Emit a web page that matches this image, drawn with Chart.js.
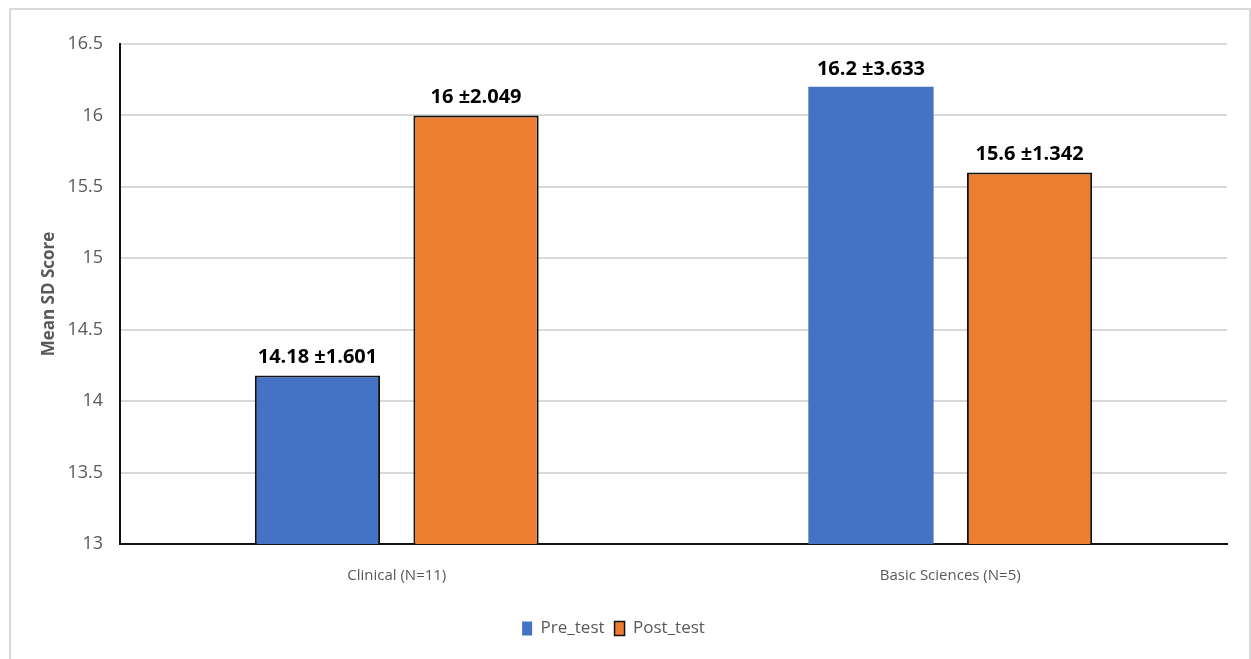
<!DOCTYPE html>
<html>
<head>
<meta charset="utf-8">
<script src="https://cdn.jsdelivr.net/npm/chart.js@4.4.1/dist/chart.umd.min.js"></script>
<style>
  html, body { margin: 0; padding: 0; background: #fff; overflow: hidden; }
  #frame { position: absolute; left: 9px; top: 8px; width: 1238px; height: 700px; border: 2px solid #d9d9d9; }
  #c { position: absolute; left: 0; top: 0; }
</style>
</head>
<body>
<div id="frame"></div>
<canvas id="c" width="1251" height="659"></canvas>
<script>
const categories = ['Clinical (N=11)', 'Basic Sciences (N=5)'];
const preMean = [14.18, 16.2];
const preSD = [1.601, 3.633];
const postMean = [16, 15.6];
const postSD = [2.049, 1.342];
const yTicks = [13, 13.5, 14, 14.5, 15, 15.5, 16, 16.5];

const FONT = "'Open Sans', sans-serif";
const sds = [preSD, postSD];

// value labels drawn above each bar, "mean ±sd"
const valueLabels = {
  id: 'valueLabels',
  afterDatasetsDraw(chart) {
    const ctx = chart.ctx;
    ctx.save();
    ctx.font = 'bold 20px ' + FONT;
    ctx.fillStyle = '#000';
    ctx.textAlign = 'center';
    ctx.textBaseline = 'middle';
    chart.data.datasets.forEach((ds, i) => {
      chart.getDatasetMeta(i).data.forEach((bar, j) => {
        ctx.fillText(ds.data[j] + ' \u00b1' + sds[i][j], bar.x, bar.y - 18);
      });
    });
    ctx.restore();
  }
};

new Chart(document.getElementById('c'), {
  type: 'bar',
  data: {
    labels: categories,
    datasets: [
      {
        label: 'Pre_test',
        data: preMean,
        backgroundColor: '#4472C4',
        borderColor: ['#111', 'rgba(0,0,0,0)'],
        borderWidth: [2, 0]
      },
      {
        label: 'Post_test',
        data: postMean,
        backgroundColor: '#ED7D31',
        borderColor: '#111',
        borderWidth: 2
      }
    ]
  },
  options: {
    responsive: false,
    animation: false,
    datasets: { bar: { categoryPercentage: 0.573, barPercentage: 0.79 } },
    layout: { padding: { top: 44, right: 24, bottom: 12, left: 0 } },
    plugins: {
      tooltip: { enabled: false },
      legend: {
        position: 'bottom',
        labels: {
          color: '#595959',
          font: { family: FONT, size: 17 },
          boxWidth: 10,
          boxHeight: 14,
          padding: 10,
          generateLabels(chart) {
            return chart.data.datasets.map((ds, i) => ({
              text: ds.label,
              fillStyle: ds.backgroundColor,
              strokeStyle: i === 0 ? ds.backgroundColor : '#111',
              lineWidth: i === 0 ? 0 : 1.5,
              fontColor: '#595959',
              datasetIndex: i
            }));
          }
        }
      }
    },
    scales: {
      x: {
        grid: { display: false, drawTicks: false },
        border: { display: true, color: '#111', width: 2 },
        ticks: { color: '#595959', font: { family: FONT, size: 15 }, padding: 23 },
        afterFit(scale) { scale.height = 66; }
      },
      y: {
        min: yTicks[0],
        max: yTicks[yTicks.length - 1],
        afterBuildTicks(scale) { scale.ticks = yTicks.map(v => ({ value: v })); },
        grid: { color: '#d9d9d9', lineWidth: 2, drawTicks: false },
        border: { display: true, color: '#111', width: 2 },
        ticks: {
          color: '#595959',
          font: { family: FONT, size: 18 },
          padding: 17,
          callback: v => String(v)
        },
        title: {
          display: true,
          text: 'Mean SD Score',
          color: '#595959',
          font: { family: FONT, size: 17, weight: 'bold' },
          padding: { top: 39, bottom: 0 }
        },
        afterFit(scale) { scale.width = 120; }
      }
    }
  },
  plugins: [valueLabels]
});
</script>
</body>
</html>
